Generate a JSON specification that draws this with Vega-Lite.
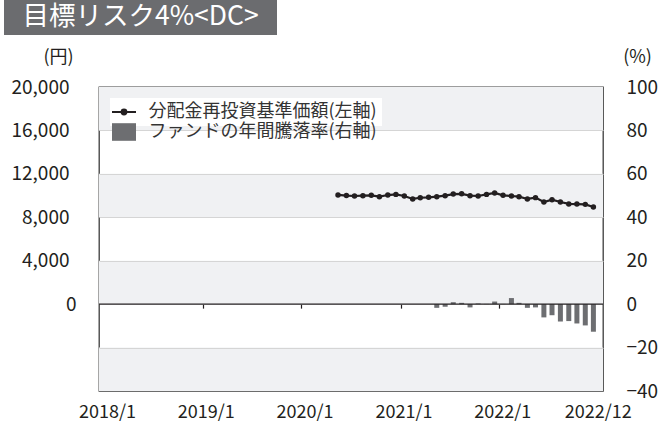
{
  "$schema": "https://vega.github.io/schema/vega-lite/v6.json",
  "width": 504,
  "height": 304,
  "autosize": {"type": "none"},
  "padding": {"left": 99, "top": 87, "right": 62, "bottom": 38},
  "background": "white",
  "config": {
    "font": "Noto Sans CJK JP",
    "view": {"stroke": "#3c3c3c", "strokeWidth": 1.3},
    "axis": {"labelFont": "Noto Sans CJK JP", "titleFont": "Noto Sans CJK JP", "labelColor": "#231f20", "titleColor": "#231f20", "titleFontWeight": "normal"},
    "legend": {"labelFont": "Noto Sans CJK JP", "titleFont": "Noto Sans CJK JP"}
  },
  "datasets": {
    "fund": [
      {"date": "2020-05-15", "nav": 10060, "ret": null},
      {"date": "2020-06-15", "nav": 10000, "ret": null},
      {"date": "2020-07-15", "nav": 9960, "ret": null},
      {"date": "2020-08-15", "nav": 9990, "ret": null},
      {"date": "2020-09-15", "nav": 10020, "ret": null},
      {"date": "2020-10-15", "nav": 9900, "ret": null},
      {"date": "2020-11-15", "nav": 10050, "ret": null},
      {"date": "2020-12-15", "nav": 10110, "ret": null},
      {"date": "2021-01-15", "nav": 9960, "ret": null},
      {"date": "2021-02-15", "nav": 9690, "ret": null},
      {"date": "2021-03-15", "nav": 9800, "ret": null},
      {"date": "2021-04-15", "nav": 9840, "ret": null},
      {"date": "2021-05-15", "nav": 9900, "ret": -1.7},
      {"date": "2021-06-15", "nav": 9990, "ret": -1.2},
      {"date": "2021-07-15", "nav": 10140, "ret": 0.9},
      {"date": "2021-08-15", "nav": 10160, "ret": 0.6},
      {"date": "2021-09-15", "nav": 9990, "ret": -1.5},
      {"date": "2021-10-15", "nav": 9960, "ret": 0.3},
      {"date": "2021-11-15", "nav": 10110, "ret": 0.1},
      {"date": "2021-12-15", "nav": 10240, "ret": 1.2},
      {"date": "2022-01-15", "nav": 10020, "ret": 0.1},
      {"date": "2022-02-15", "nav": 9960, "ret": 2.8},
      {"date": "2022-03-15", "nav": 9900, "ret": 0.6},
      {"date": "2022-04-15", "nav": 9690, "ret": -1.7},
      {"date": "2022-05-15", "nav": 9810, "ret": -1.5},
      {"date": "2022-06-15", "nav": 9410, "ret": -6.1},
      {"date": "2022-07-15", "nav": 9620, "ret": -5.1},
      {"date": "2022-08-15", "nav": 9410, "ret": -8.0},
      {"date": "2022-09-15", "nav": 9230, "ret": -7.8},
      {"date": "2022-10-15", "nav": 9220, "ret": -8.9},
      {"date": "2022-11-15", "nav": 9190, "ret": -9.8},
      {"date": "2022-12-15", "nav": 8950, "ret": -12.7}
    ],
    "bands": [
      {"lo": 80, "hi": 100},
      {"lo": 40, "hi": 60},
      {"lo": 0, "hi": 20},
      {"lo": -40, "hi": -20}
    ],
    "zero": [{"pct": 0}]
  },
  "resolve": {"scale": {"y": "independent"}, "axis": {"y": "independent", "x": "independent"}},
  "layer": [
    {
      "data": {"name": "bands"},
      "mark": {"type": "rect", "color": "#f0f1f3"},
      "encoding": {
        "y": {"field": "lo", "type": "quantitative", "scale": {"domain": [-40, 100], "nice": false, "zero": false}, "axis": null},
        "y2": {"field": "hi"}
      }
    },
    {
      "data": {"name": "fund"},
      "transform": [{"filter": "isValid(datum.ret)"}],
      "mark": {"type": "bar", "size": 5},
      "encoding": {
        "x": {
          "field": "date", "type": "temporal",
          "scale": {"type": "utc", "domain": [{"year": 2018, "month": 1, "date": 1, "utc": true}, {"year": 2023, "month": 1, "date": 1, "utc": true}], "nice": false},
          "axis": null
        },
        "y": {
          "field": "ret", "type": "quantitative",
          "scale": {"domain": [-40, 100], "nice": false, "zero": false},
          "axis": {
            "orient": "right", "values": [-40, -20, 0, 20, 40, 60, 80, 100],
            "ticks": false, "domain": false, "grid": true, "gridColor": "#d5d5d5", "gridWidth": 1,
            "gridOpacity": {"condition": {"test": "datum.value == 0 || datum.value == -40 || datum.value == 100", "value": 0}, "value": 1},
            "zindex": 1, "labelFontSize": 19, "labelPadding": 23, "labelFlush": false, "labelOverlap": false,
            "title": "(%)", "titleAngle": 0, "titleX": 34, "titleY": -30, "titleAlign": "center", "titleBaseline": "middle", "titleFontSize": 18
          }
        },
        "fill": {
          "datum": "ファンドの年間騰落率(右軸)", "type": "nominal",
          "scale": {"range": ["#6d6e71"]},
          "legend": {
            "title": null, "orient": "none", "legendX": 16, "legendY": 36, "padding": 0, "zindex": 3,
            "symbolType": "M-1.5,-1.1H1.5V1.1H-1.5Z", "symbolSize": 256, "symbolStrokeWidth": 0,
            "labelOffset": 15.5, "labelFontSize": 18, "labelColor": "#333333", "labelLimit": 0
          }
        }
      }
    },
    {
      "data": {"name": "zero"},
      "mark": {"type": "rule", "color": "#231f20", "strokeWidth": 1.3},
      "encoding": {
        "y": {"field": "pct", "type": "quantitative", "scale": {"domain": [-40, 100], "nice": false, "zero": false}, "axis": null}
      }
    },
    {
      "data": {"name": "fund"},
      "mark": {"type": "line", "strokeWidth": 2.2},
      "encoding": {
        "x": {
          "field": "date", "type": "temporal",
          "scale": {"type": "utc", "domain": [{"year": 2018, "month": 1, "date": 1, "utc": true}, {"year": 2023, "month": 1, "date": 1, "utc": true}], "nice": false},
          "axis": {
            "orient": "bottom", "title": null, "domain": false, "grid": false, "ticks": false,
            "values": [
              {"year": 2018, "month": 1, "date": 1, "utc": true},
              {"year": 2019, "month": 1, "date": 1, "utc": true},
              {"year": 2020, "month": 1, "date": 1, "utc": true},
              {"year": 2021, "month": 1, "date": 1, "utc": true},
              {"year": 2022, "month": 1, "date": 1, "utc": true},
              {"year": 2022, "month": 12, "date": 20, "utc": true}
            ],
            "format": "%Y/%-m",
            "labelPadding": 12, "labelOffset": 3, "labelFontSize": 18, "labelFlush": false, "labelOverlap": false
          }
        },
        "y": {
          "field": "nav", "type": "quantitative",
          "scale": {"domain": [-8000, 20000], "nice": false, "zero": false},
          "axis": {
            "orient": "left", "values": [0, 4000, 8000, 12000, 16000, 20000], "format": ",d",
            "ticks": false, "domain": false, "grid": false, "labelFontSize": 19,
            "labelPadding": {"condition": {"test": "datum.value == 0", "value": 23}, "value": 30},
            "labelFlush": false, "labelOverlap": false,
            "title": "(円)", "titleAngle": 0, "titleX": -41, "titleY": -30, "titleAlign": "center", "titleBaseline": "middle", "titleFontSize": 18
          }
        },
        "stroke": {
          "datum": "分配金再投資基準価額(左軸)", "type": "nominal",
          "scale": {"range": ["#231f20"]},
          "legend": {
            "title": null, "orient": "none", "legendX": 11, "legendY": 11, "padding": 5, "fillColor": "white", "zindex": 1,
            "symbolType": "M-1.5,0H1.5M-0.3,0A0.3,0.3 0 1,0 0.3,0A0.3,0.3 0 1,0 -0.3,0",
            "symbolSize": 256, "symbolStrokeWidth": 2, "symbolFillColor": "#231f20", "symbolStrokeColor": "#231f20",
            "labelOffset": 15.5, "labelFontSize": 18, "labelColor": "#333333", "labelLimit": 0
          }
        }
      }
    },
    {
      "data": {"name": "fund"},
      "mark": {"type": "point", "filled": true, "size": 30, "color": "#231f20", "opacity": 1},
      "encoding": {
        "x": {
          "field": "date", "type": "temporal",
          "scale": {"type": "utc", "domain": [{"year": 2018, "month": 1, "date": 1, "utc": true}, {"year": 2023, "month": 1, "date": 1, "utc": true}], "nice": false},
          "axis": {
            "orient": "bottom", "offset": -86.86, "title": null, "domain": false, "grid": false, "labels": false,
            "values": [
              {"year": 2019, "month": 1, "date": 1, "utc": true},
              {"year": 2020, "month": 1, "date": 1, "utc": true},
              {"year": 2021, "month": 1, "date": 1, "utc": true},
              {"year": 2022, "month": 1, "date": 1, "utc": true}
            ],
            "ticks": true, "tickSize": 4, "tickColor": "#231f20", "tickWidth": 1.2
          }
        },
        "y": {"field": "nav", "type": "quantitative", "scale": {"domain": [-8000, 20000], "nice": false, "zero": false}, "axis": null},
        "shape": {
          "datum": "目標リスク4%<DC>", "type": "nominal",
          "scale": {"range": ["circle"]},
          "legend": {
            "title": null, "orient": "none", "legendX": -95, "legendY": -87, "padding": 4, "fillColor": "#6b6c6f",
            "symbolSize": 1, "symbolOpacity": 0, "symbolOffset": 251, "labelOffset": -263,
            "labelFontSize": 26.5, "labelColor": "white", "labelLimit": 0
          }
        }
      }
    }
  ]
}
